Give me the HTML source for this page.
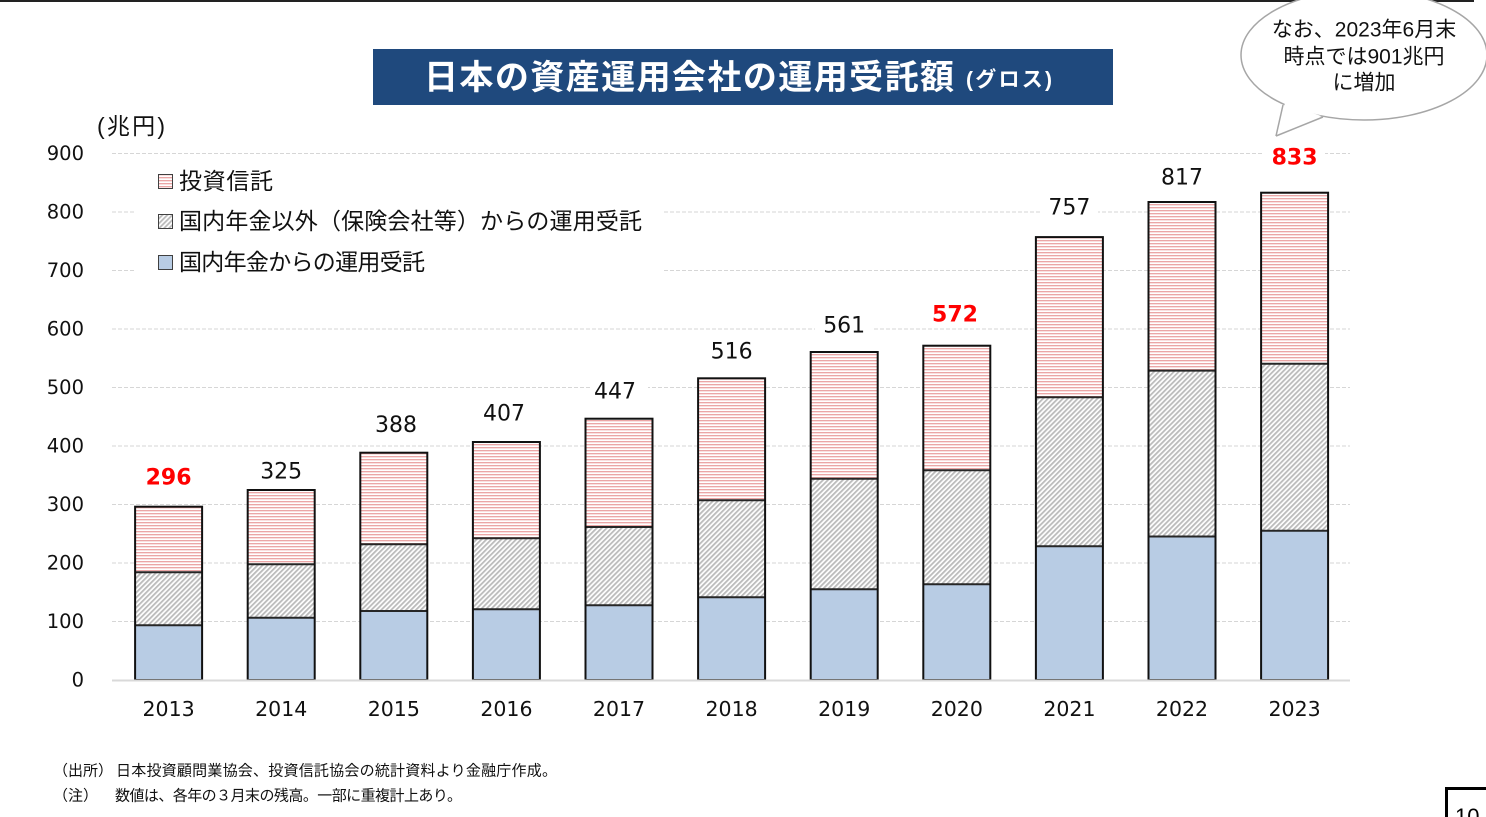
<!DOCTYPE html>
<html><head><meta charset="utf-8">
<style>
html,body{margin:0;padding:0;background:#fff;}
svg{display:block;}
.cjk{font-family:"Liberation Sans","Noto Sans CJK JP",sans-serif;}
.num{font-family:"DejaVu Sans","Liberation Sans",sans-serif;}
</style></head>
<body>
<svg width="1486" height="817" viewBox="0 0 1486 817" xmlns="http://www.w3.org/2000/svg">
<defs>
  <pattern id="pink" patternUnits="userSpaceOnUse" width="4" height="3">
    <rect width="4" height="3" fill="#ffffff"/>
    <rect y="0" width="4" height="1" fill="#eba6a6"/>
    <rect y="1" width="4" height="1" fill="#f9e0e0"/>
  </pattern>
  <pattern id="hatch" patternUnits="userSpaceOnUse" width="3.5" height="4" patternTransform="rotate(45)">
    <rect width="3.5" height="4" fill="#ffffff"/>
    <rect width="1.8" height="4" fill="#bbbbbb"/>
  </pattern>
</defs>

<line x1="0" y1="1" x2="1474" y2="1" stroke="#222" stroke-width="2"/>

<rect x="373" y="49" width="740" height="56" fill="#1f497d"/>
<text class="cjk" x="424" y="78" dominant-baseline="central" font-size="34" font-weight="bold" fill="#fff" textLength="530">日本の資産運用会社の運用受託額</text>
<text class="cjk" x="966" y="80" dominant-baseline="central" font-size="21" font-weight="bold" fill="#fff" textLength="86">(グロス)</text>

<ellipse cx="1364" cy="55" rx="123" ry="65" fill="#fff" stroke="#a6a6a6" stroke-width="1.5"/>
<path d="M1285,103 L1277,134 L1321,116 Z" fill="#fff"/>
<line x1="1283" y1="105" x2="1276" y2="136" stroke="#a6a6a6" stroke-width="1.5"/>
<line x1="1276" y1="136" x2="1323" y2="117" stroke="#a6a6a6" stroke-width="1.5"/>
<text class="cjk" x="1364" y="30" text-anchor="middle" dominant-baseline="central" font-size="21" fill="#111">なお、2023年6月末</text>
<text class="cjk" x="1364" y="57" text-anchor="middle" dominant-baseline="central" font-size="21" fill="#111">時点では901兆円</text>
<text class="cjk" x="1364" y="83" text-anchor="middle" dominant-baseline="central" font-size="21" fill="#111">に増加</text>

<text class="cjk" x="97" y="126" dominant-baseline="central" font-size="23" fill="#111" textLength="68">(兆円)</text>

<g stroke="#d6d6d6" stroke-width="1" stroke-dasharray="4 2">
  <line x1="112" y1="621.5" x2="1350" y2="621.5"/>
  <line x1="112" y1="563" x2="1350" y2="563"/>
  <line x1="112" y1="504.5" x2="1350" y2="504.5"/>
  <line x1="112" y1="446" x2="1350" y2="446"/>
  <line x1="112" y1="387.5" x2="1350" y2="387.5"/>
  <line x1="112" y1="329" x2="1350" y2="329"/>
  <line x1="112" y1="270.5" x2="1350" y2="270.5"/>
  <line x1="112" y1="212" x2="1350" y2="212"/>
  <line x1="112" y1="153.5" x2="1350" y2="153.5"/>
</g>

<g class="num" font-size="19.5" fill="#111" text-anchor="end" dominant-baseline="central">
  <text x="84" y="680">0</text>
  <text x="84" y="621.5">100</text>
  <text x="84" y="563">200</text>
  <text x="84" y="504.5">300</text>
  <text x="84" y="446">400</text>
  <text x="84" y="387.5">500</text>
  <text x="84" y="329">600</text>
  <text x="84" y="270.5">700</text>
  <text x="84" y="212">800</text>
  <text x="84" y="153.5">900</text>
</g>

<rect x="135" y="163" width="527" height="120" fill="#fff"/>
<rect x="158.5" y="174.5" width="14" height="14" fill="url(#pink)" stroke="#404040" stroke-width="1"/>
<rect x="158.5" y="214.5" width="14" height="14" fill="url(#hatch)" stroke="#404040" stroke-width="1"/>
<rect x="158.5" y="255.5" width="14" height="14" fill="#b8cce4" stroke="#404040" stroke-width="1"/>
<g class="cjk" font-size="23" fill="#111" dominant-baseline="central">
  <text x="179" y="181" textLength="94">投資信託</text>
  <text x="179" y="221" textLength="463">国内年金以外（保険会社等）からの運用受託</text>
  <text x="179" y="262" textLength="246">国内年金からの運用受託</text>
</g>

<g stroke="none">
  <rect x="135.1" y="625.3" width="67" height="54.7" fill="#b8cce4"/>
  <rect x="135.1" y="572.3" width="67" height="53" fill="url(#hatch)"/>
  <rect x="135.1" y="506.7" width="67" height="65.6" fill="url(#pink)"/>
  <rect x="247.7" y="617.7" width="67" height="62.3" fill="#b8cce4"/>
  <rect x="247.7" y="564.3" width="67" height="53.4" fill="url(#hatch)"/>
  <rect x="247.7" y="490" width="67" height="74.3" fill="url(#pink)"/>
  <rect x="360.3" y="611" width="67" height="69" fill="#b8cce4"/>
  <rect x="360.3" y="544.3" width="67" height="66.7" fill="url(#hatch)"/>
  <rect x="360.3" y="452.7" width="67" height="91.6" fill="url(#pink)"/>
  <rect x="472.9" y="609.3" width="67" height="70.7" fill="#b8cce4"/>
  <rect x="472.9" y="538.3" width="67" height="71" fill="url(#hatch)"/>
  <rect x="472.9" y="442" width="67" height="96.3" fill="url(#pink)"/>
  <rect x="585.5" y="605.3" width="67" height="74.7" fill="#b8cce4"/>
  <rect x="585.5" y="527" width="67" height="78.3" fill="url(#hatch)"/>
  <rect x="585.5" y="418.7" width="67" height="108.3" fill="url(#pink)"/>
  <rect x="698.1" y="597.3" width="67" height="82.7" fill="#b8cce4"/>
  <rect x="698.1" y="500.3" width="67" height="97" fill="url(#hatch)"/>
  <rect x="698.1" y="378.3" width="67" height="122" fill="url(#pink)"/>
  <rect x="810.7" y="589.3" width="67" height="90.7" fill="#b8cce4"/>
  <rect x="810.7" y="478.7" width="67" height="110.6" fill="url(#hatch)"/>
  <rect x="810.7" y="352" width="67" height="126.7" fill="url(#pink)"/>
  <rect x="923.3" y="584.3" width="67" height="95.7" fill="#b8cce4"/>
  <rect x="923.3" y="470.3" width="67" height="114" fill="url(#hatch)"/>
  <rect x="923.3" y="345.7" width="67" height="124.6" fill="url(#pink)"/>
  <rect x="1035.9" y="546.2" width="67" height="133.8" fill="#b8cce4"/>
  <rect x="1035.9" y="397.2" width="67" height="149" fill="url(#hatch)"/>
  <rect x="1035.9" y="237.1" width="67" height="160.1" fill="url(#pink)"/>
  <rect x="1148.5" y="536.5" width="67" height="143.5" fill="#b8cce4"/>
  <rect x="1148.5" y="370.6" width="67" height="165.9" fill="url(#hatch)"/>
  <rect x="1148.5" y="202" width="67" height="168.6" fill="url(#pink)"/>
  <rect x="1261.1" y="530.7" width="67" height="149.3" fill="#b8cce4"/>
  <rect x="1261.1" y="363.8" width="67" height="166.9" fill="url(#hatch)"/>
  <rect x="1261.1" y="192.7" width="67" height="171.1" fill="url(#pink)"/>
</g>
<g stroke="#262626" stroke-width="2">
  <line x1="135.1" y1="625.3" x2="202.1" y2="625.3"/><line x1="135.1" y1="572.3" x2="202.1" y2="572.3"/>
  <line x1="247.7" y1="617.7" x2="314.7" y2="617.7"/><line x1="247.7" y1="564.3" x2="314.7" y2="564.3"/>
  <line x1="360.3" y1="611" x2="427.3" y2="611"/><line x1="360.3" y1="544.3" x2="427.3" y2="544.3"/>
  <line x1="472.9" y1="609.3" x2="539.9" y2="609.3"/><line x1="472.9" y1="538.3" x2="539.9" y2="538.3"/>
  <line x1="585.5" y1="605.3" x2="652.5" y2="605.3"/><line x1="585.5" y1="527" x2="652.5" y2="527"/>
  <line x1="698.1" y1="597.3" x2="765.1" y2="597.3"/><line x1="698.1" y1="500.3" x2="765.1" y2="500.3"/>
  <line x1="810.7" y1="589.3" x2="877.7" y2="589.3"/><line x1="810.7" y1="478.7" x2="877.7" y2="478.7"/>
  <line x1="923.3" y1="584.3" x2="990.3" y2="584.3"/><line x1="923.3" y1="470.3" x2="990.3" y2="470.3"/>
  <line x1="1035.9" y1="546.2" x2="1102.9" y2="546.2"/><line x1="1035.9" y1="397.2" x2="1102.9" y2="397.2"/>
  <line x1="1148.5" y1="536.5" x2="1215.5" y2="536.5"/><line x1="1148.5" y1="370.6" x2="1215.5" y2="370.6"/>
  <line x1="1261.1" y1="530.7" x2="1328.1" y2="530.7"/><line x1="1261.1" y1="363.8" x2="1328.1" y2="363.8"/>
</g>
<g fill="none" stroke="#111" stroke-width="2">
  <rect x="135.1" y="506.7" width="67" height="173.3"/>
  <rect x="247.7" y="490" width="67" height="190"/>
  <rect x="360.3" y="452.7" width="67" height="227.3"/>
  <rect x="472.9" y="442" width="67" height="238"/>
  <rect x="585.5" y="418.7" width="67" height="261.3"/>
  <rect x="698.1" y="378.3" width="67" height="301.7"/>
  <rect x="810.7" y="352" width="67" height="328"/>
  <rect x="923.3" y="345.7" width="67" height="334.3"/>
  <rect x="1035.9" y="237.1" width="67" height="442.9"/>
  <rect x="1148.5" y="202" width="67" height="478"/>
  <rect x="1261.1" y="192.7" width="67" height="487.3"/>
</g>

<line x1="112" y1="680.5" x2="1350" y2="680.5" stroke="#d9d9d9" stroke-width="2"/>

<g fill="#fff">
  <rect x="138" y="465" width="61" height="26"/>
  <rect x="251" y="459" width="61" height="26"/>
  <rect x="366" y="412" width="58" height="27"/>
  <rect x="478" y="401" width="58" height="26"/>
  <rect x="590" y="379" width="58" height="26"/>
  <rect x="703" y="339" width="58" height="26"/>
  <rect x="815" y="313" width="58" height="26"/>
  <rect x="926" y="302" width="61" height="26"/>
  <rect x="1040" y="195" width="58" height="26"/>
  <rect x="1153" y="165" width="58" height="26"/>
  <rect x="1264" y="145" width="61" height="26"/>
</g>
<g class="num" font-size="22" text-anchor="middle" dominant-baseline="central" fill="#111">
  <text x="168.6" y="478" fill="#ff0000" font-weight="bold">296</text>
  <text x="281.2" y="472">325</text>
  <text x="396" y="425.5">388</text>
  <text x="504" y="414">407</text>
  <text x="615" y="392">447</text>
  <text x="731.6" y="352">516</text>
  <text x="844.2" y="326">561</text>
  <text x="955" y="315" fill="#ff0000" font-weight="bold">572</text>
  <text x="1069.4" y="208">757</text>
  <text x="1182" y="178">817</text>
  <text x="1294.6" y="158" fill="#ff0000" font-weight="bold">833</text>
</g>

<g class="num" font-size="20.5" text-anchor="middle" dominant-baseline="central" fill="#111">
  <text x="168.6" y="709">2013</text>
  <text x="281.2" y="709">2014</text>
  <text x="393.8" y="709">2015</text>
  <text x="506.4" y="709">2016</text>
  <text x="619" y="709">2017</text>
  <text x="731.6" y="709">2018</text>
  <text x="844.2" y="709">2019</text>
  <text x="956.8" y="709">2020</text>
  <text x="1069.4" y="709">2021</text>
  <text x="1182" y="709">2022</text>
  <text x="1294.6" y="709">2023</text>
</g>

<g class="cjk" font-size="15" fill="#111" dominant-baseline="central">
  <text x="53" y="771">（出所）</text>
  <text x="116" y="771" textLength="441">日本投資顧問業協会、投資信託協会の統計資料より金融庁作成。</text>
  <text x="53" y="796">（注）</text>
  <text x="115" y="796" textLength="347">数値は、各年の３月末の残高。一部に重複計上あり。</text>
</g>

<rect x="1446.5" y="788.5" width="60" height="40" fill="#fff" stroke="#000" stroke-width="3"/>
<text x="1455" y="824" font-family="Liberation Sans, sans-serif" font-size="22" fill="#000">10</text>
</svg>
</body></html>
